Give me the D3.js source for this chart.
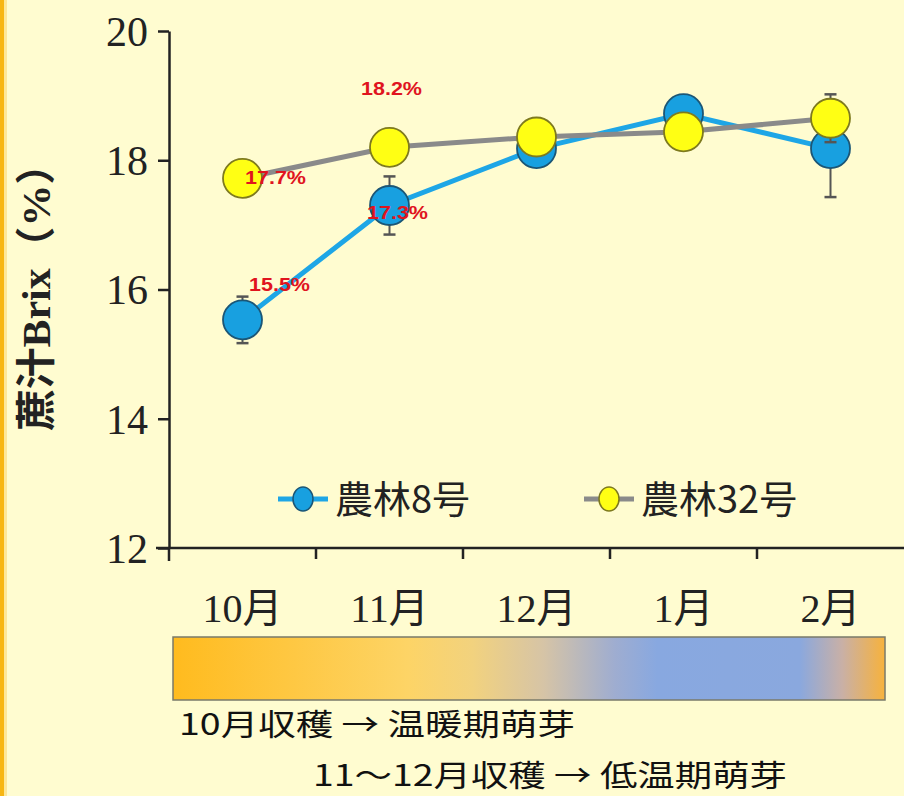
<!DOCTYPE html>
<html>
<head>
<meta charset="utf-8">
<script src="https://cdn.jsdelivr.net/npm/d3@7"></script>
<style>
  html, body { margin: 0; padding: 0; background: #fffcd0; }
  svg { display: block; }
</style>
</head>
<body>
<svg id="chart" width="904" height="796"></svg>
<script>
// data
var months = ["10月", "11月", "12月", "1月", "2月"];
var yTicks = [12, 14, 16, 18, 20];
var seriesNames = ["農林8号", "農林32号"];
var norin8 = [15.53, 17.3, 18.18, 18.72, 18.18];
var norin8Err = [0.36, 0.45, 0.1, 0.1, 0.75];
var norin32 = [17.72, 18.2, 18.36, 18.44, 18.65];
var norin32Err = [0.1, 0.1, 0.1, 0.1, 0.37];
var labelled = [   // [série, index du mois]
    [1, 1], [1, 0], [0, 1], [0, 0]
];
var noteLines = ["10月収穫 → 温暖期萌芽", "11～12月収穫 → 低温期萌芽"];

var svg = d3.select("#chart");
var W = 904, H = 796;

// fond + bande orange à gauche
svg.append("rect").attr("width", W).attr("height", H).attr("fill", "#fffcd0");
svg.append("rect").attr("x", 0).attr("width", 4).attr("height", H).attr("fill", "#f7b614");
svg.append("rect").attr("x", 4).attr("width", 3).attr("height", H).attr("fill", "#fde79a");

var x = d3.scaleBand().domain(months).range([169, 904]).padding(0);
var y = d3.scaleLinear().domain([12, 20]).range([548, 31]);
var cx = function(i) { return x(months[i]) + x.bandwidth() / 2; };

var series = [
    {name: seriesNames[0], values: norin8, err: norin8Err, line: "#1ea6e6", fill: "#18a0e0", stroke: "#1b5676"},
    {name: seriesNames[1], values: norin32, err: norin32Err, line: "#8a8a8a", fill: "#ffff14", stroke: "#7e7a1e"}
];

// axe Y
var gy = svg.append("g").attr("transform", "translate(169,0)")
    .call(d3.axisLeft(y).tickValues(yTicks).tickSize(11).tickSizeOuter(0).tickPadding(10));
gy.select(".domain").attr("stroke", "#222").attr("stroke-width", 2.5);
gy.selectAll(".tick line").attr("stroke", "#222").attr("stroke-width", 2.5);
gy.selectAll(".tick text")
    .attr("font-family", "'Liberation Serif', 'DejaVu Serif', serif")
    .attr("font-size", 42).attr("fill", "#222").attr("dy", "0.34em");

// axe X
var gx = svg.append("g").attr("transform", "translate(0,548)");
gx.append("line").attr("x1", 156).attr("x2", 904).attr("stroke", "#222").attr("stroke-width", 2.5);
gx.selectAll(".tk").data(months.slice(1)).enter().append("line")
    .attr("x1", function(d) { return x(d); }).attr("x2", function(d) { return x(d); })
    .attr("y1", 0).attr("y2", 11).attr("stroke", "#222").attr("stroke-width", 2.5);
gx.append("line").attr("x1", 169).attr("x2", 169).attr("y1", 0).attr("y2", 13)
    .attr("stroke", "#222").attr("stroke-width", 2.5);
gx.selectAll(".lbl").data(months).enter().append("text")
    .attr("x", function(d, i) { return cx(i); }).attr("y", 74)
    .attr("text-anchor", "middle")
    .attr("font-family", "'Liberation Serif', 'Noto Sans CJK JP', serif")
    .attr("font-size", 40).attr("fill", "#222")
    .text(function(d) { return d; });

// titre axe Y
svg.append("text")
    .attr("transform", "translate(50,287) rotate(-90)")
    .attr("text-anchor", "middle")
    .attr("textLength", 288).attr("lengthAdjust", "spacingAndGlyphs")
    .attr("font-family", "'Liberation Serif', 'Noto Sans CJK JP', serif")
    .attr("font-weight", "bold").attr("font-size", 40).attr("fill", "#222")
    .text("蔗汁Brix（%）");

// séries
var line = d3.line().x(function(d, i) { return cx(i); }).y(function(d) { return y(d); });

series.forEach(function(s) {
    var g = svg.append("g");
    g.selectAll(".err").data(s.values).enter().append("g").each(function(v, i) {
        var e = d3.select(this), xc = cx(i);
        e.append("line").attr("x1", xc).attr("x2", xc)
            .attr("y1", y(v - s.err[i])).attr("y2", y(v + s.err[i]))
            .attr("stroke", "#555").attr("stroke-width", 2);
        [v - s.err[i], v + s.err[i]].forEach(function(w) {
            e.append("line").attr("x1", xc - 6).attr("x2", xc + 6)
                .attr("y1", y(w)).attr("y2", y(w))
                .attr("stroke", "#555").attr("stroke-width", 2.5);
        });
    });
    g.append("path").datum(s.values).attr("d", line)
        .attr("fill", "none").attr("stroke", s.line).attr("stroke-width", 5);
    g.selectAll("circle").data(s.values).enter().append("circle")
        .attr("cx", function(d, i) { return cx(i); })
        .attr("cy", function(d) { return y(d); })
        .attr("r", 19.5)
        .attr("fill", s.fill).attr("stroke", s.stroke).attr("stroke-width", 1.8);
});

// étiquettes rouges
var labelOffset = {"1,1": [2, -59], "1,0": [33, -1], "0,1": [8, 7], "0,0": [37, -35]};
svg.selectAll(".pct").data(labelled).enter().append("text")
    .attr("x", function(d) { return cx(d[1]) + labelOffset[d.join(",")][0]; })
    .attr("y", function(d) { return y(series[d[0]].values[d[1]]) + labelOffset[d.join(",")][1]; })
    .attr("dy", "0.35em")
    .attr("text-anchor", "middle")
    .attr("textLength", 61).attr("lengthAdjust", "spacingAndGlyphs")
    .attr("font-family", "'Liberation Sans', Arial, sans-serif")
    .attr("font-weight", "bold").attr("font-size", 18).attr("fill", "#e0141e")
    .text(function(d) { return series[d[0]].values[d[1]].toFixed(1) + "%"; });

// légende
var legX = [303, 609];
var lg = svg.append("g").selectAll("g").data(series).enter().append("g")
    .attr("transform", function(d, i) { return "translate(" + legX[i] + ",499)"; });
lg.append("line").attr("x1", -25).attr("x2", 25)
    .attr("stroke", function(d) { return d.line; }).attr("stroke-width", 5);
lg.append("ellipse").attr("rx", 10).attr("ry", 12)
    .attr("fill", function(d) { return d.fill; })
    .attr("stroke", function(d) { return d.stroke; }).attr("stroke-width", 1.5);
lg.append("text").attr("x", 32).attr("dy", "0.36em")
    .attr("font-family", "'Noto Sans CJK JP', sans-serif")
    .attr("font-size", 38).attr("fill", "#222")
    .text(function(d) { return d.name; });

// bande dégradée des saisons
var grad = svg.append("defs").append("linearGradient").attr("id", "season");
[[0, "#ffbb1e"], [0.33, "#fdd466"], [0.42, "#f2d27e"], [0.52, "#d6c4a6"], [0.62, "#9fadd0"],
 [0.68, "#88a8e0"], [0.88, "#8aa8de"], [0.94, "#c9b0a6"], [1, "#f7b23c"]].forEach(function(s) {
    grad.append("stop").attr("offset", s[0]).attr("stop-color", s[1]);
});
svg.append("rect").attr("x", 173).attr("y", 637).attr("width", 712).attr("height", 63)
    .attr("fill", "url(#season)").attr("stroke", "#7a7a6a").attr("stroke-width", 1.5);

// notes
var noteX = [179, 313], noteY = [735, 786], noteW = [396, 474];
svg.selectAll(".note").data(noteLines).enter().append("text")
    .attr("x", function(d, i) { return noteX[i]; })
    .attr("y", function(d, i) { return noteY[i]; })
    .attr("textLength", function(d, i) { return noteW[i]; })
    .attr("lengthAdjust", "spacingAndGlyphs")
    .attr("font-family", "'Noto Sans CJK JP', sans-serif")
    .attr("font-size", 30).attr("fill", "#111")
    .text(function(d) { return d; });
</script>
</body>
</html>
